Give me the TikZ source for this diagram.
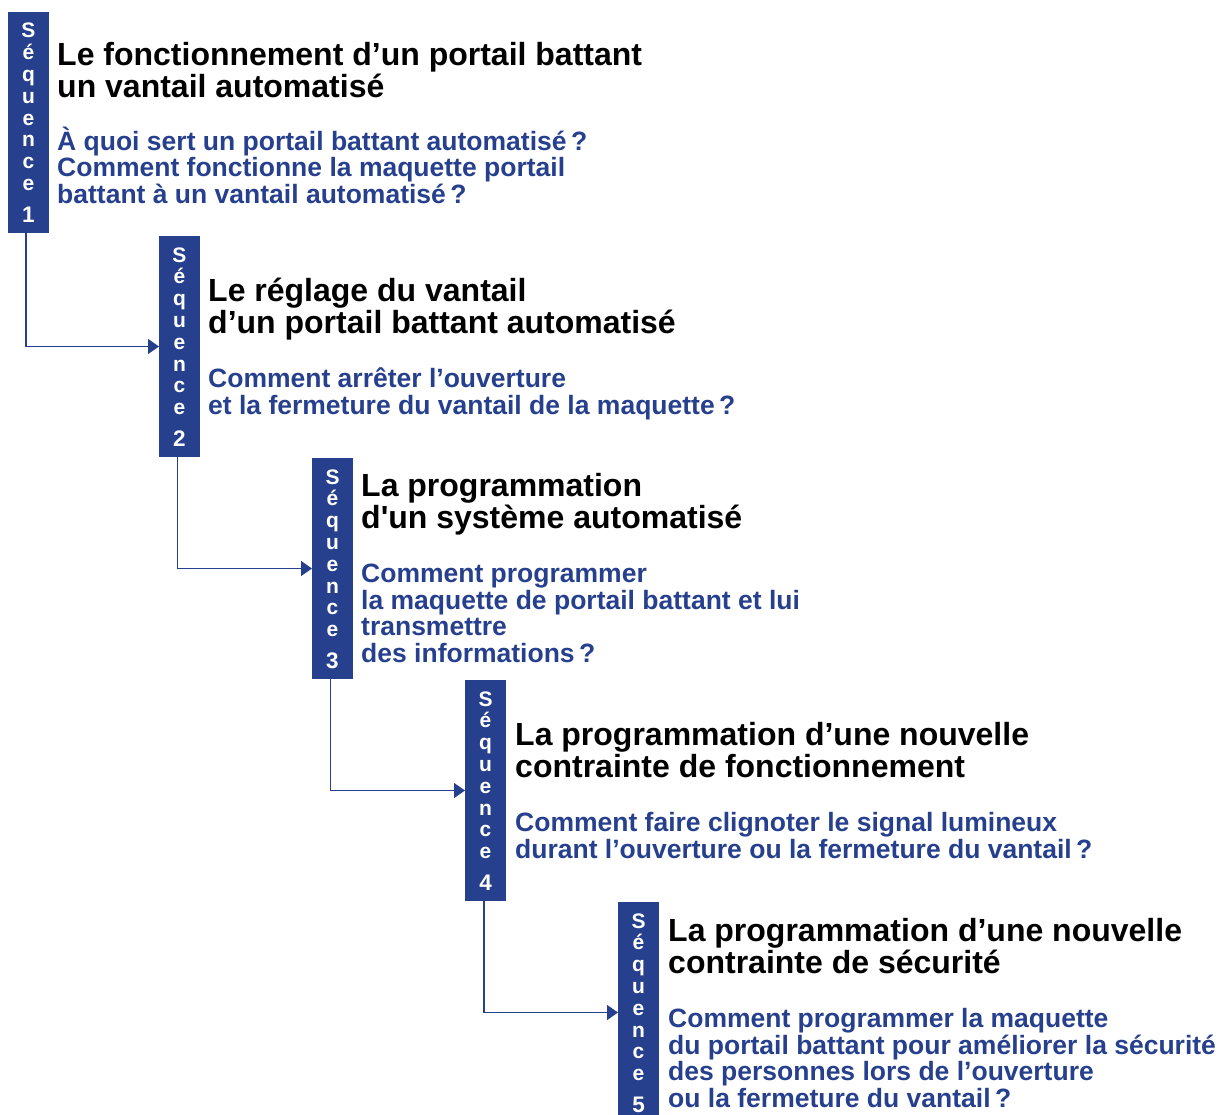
\documentclass[tikz,border=0pt]{standalone}
\usepackage{fontspec}
\setmainfont{Liberation Sans}
\usetikzlibrary{arrows.meta}
\definecolor{seqblue}{RGB}{38,64,142}
\begin{document}
\begin{tikzpicture}[x=1pt,y=-1pt,
  bar/.style={fill=seqblue, draw=none, minimum width=41pt, minimum height=221pt, inner sep=0pt, outer sep=0pt, anchor=north west},
  vlet/.style={text=white, font=\fontsize{21}{21}\selectfont\bfseries, inner sep=0pt, anchor=base},
  vnum/.style={text=white, font=\fontsize{22.5}{22.5}\selectfont\bfseries, inner sep=0pt, anchor=base},
  title/.style={font=\fontsize{32}{32}\selectfont\bfseries, align=left, inner sep=0pt, anchor=base west},
  quest/.style={text=seqblue, font=\fontsize{26.5}{26.5}\selectfont\bfseries, align=left, inner sep=0pt, anchor=base west},
  link/.style={draw=seqblue, line width=1.2pt, -{Triangle[length=11pt,width=15pt]}}]
\useasboundingbox (0,0) rectangle (1222,1115);

\foreach \i/\bx/\by in {1/8/12, 2/159/236, 3/312/458, 4/465/680, 5/618/902}{
  \node[bar] (s\i) at (\bx,\by) {};
  \foreach \ch [count=\k] in {S,é,q,u,e,n,c,e}
    \node[vlet] (v\i-\k) at (\bx+20.5, \by+26+21.8*\k-21.8) {\ch};
  \node[vnum] (n\i) at (\bx+20.5, \by+210.5) {\i};
}

\draw[link] (s1.south west) ++(18,0) |- (s2.west);
\draw[link] (s2.south west) ++(18.5,0) |- (s3.west);
\draw[link] (s3.south west) ++(18.5,0) |- (s4.west);
\draw[link] (s4.south west) ++(19,0) |- (s5.west);

% anchors are placed at the baseline of the last line
\node[title] (t1) at (57,98) {Le fonctionnement d’un portail battant\\un vantail automatisé};
\node[quest] (q1) at (57,203.5) {À quoi sert un portail battant automatisé\,?\\Comment fonctionne la maquette portail\\battant à un vantail automatisé\,?};

\node[title] (t2) at (208,333) {Le réglage du vantail\\d’un portail battant automatisé};
\node[quest] (q2) at (208,414) {Comment arrêter l’ouverture\\et la fermeture du vantail de la maquette\,?};

\node[title] (t3) at (361,528) {La programmation\\d\textquotesingle un système automatisé};
\node[quest] (q3) at (361,662) {Comment programmer\\la maquette de portail battant et lui\\transmettre\\des informations\,?};

\node[title] (t4) at (515,777) {La programmation d’une nouvelle\\contrainte de fonctionnement};
\node[quest] (q4) at (515,858) {Comment faire clignoter le signal lumineux\\durant l’ouverture ou la fermeture du vantail\,?};

\node[title] (t5) at (668,973) {La programmation d’une nouvelle\\contrainte de sécurité};
\node[quest] (q5) at (668,1107) {Comment programmer la maquette\\du portail battant pour améliorer la sécurité\\des personnes lors de l’ouverture\\ou la fermeture du vantail\,?};
\end{tikzpicture}
\end{document}
